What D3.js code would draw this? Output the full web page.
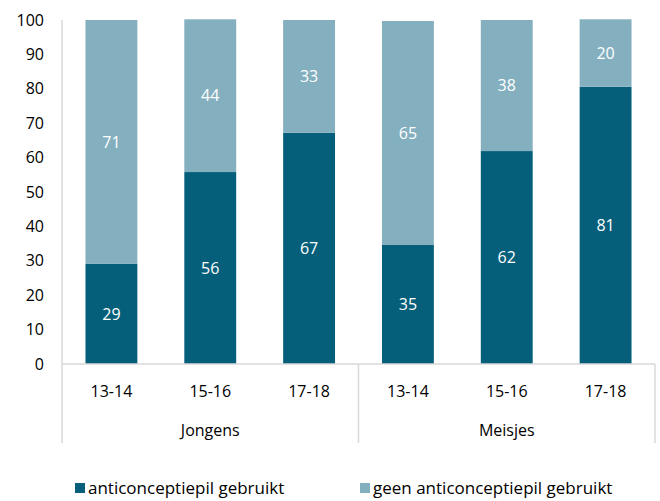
<!DOCTYPE html>
<html>
<head>
<meta charset="utf-8">
<script src="https://cdn.jsdelivr.net/npm/d3@7"></script>
<style>
  body { margin: 0; background: #fff; }
  svg text { font-family: "Open Sans", "Noto Sans", sans-serif; }
</style>
</head>
<body>
<div id="chart"></div>
<script>
// data
var groups = ["Jongens", "Meisjes"];
var ages = ["13-14", "15-16", "17-18"];
var gebruikt = [29.1, 55.8, 67.2, 34.6, 61.9, 80.6];
var geenGebruikt = [70.9, 44.4, 32.8, 65.1, 38.1, 19.6];
var seriesNames = ["anticonceptiepil gebruikt", "geen anticonceptiepil gebruikt"];
var yTicks = [0, 10, 20, 30, 40, 50, 60, 70, 80, 90, 100];

var w = 660, h = 501;
var plotLeft = 62, plotRight = 655, plotTop = 20, plotBottom = 364;
var colors = ["#065f7a", "#83afbf"];
var gridGrey = "#d9d9d9";
var fontSize = "16px";

var svg = d3.select("#chart").append("svg")
  .attr("width", w).attr("height", h);

// one row per bar
var rows = [];
groups.forEach(function(g, gi) {
  ages.forEach(function(a, ai) {
    var i = gi * ages.length + ai;
    rows.push({ key: g + "|" + a, group: g, age: a, gebruikt: gebruikt[i], geen: geenGebruikt[i] });
  });
});

var x = d3.scaleBand()
  .domain(rows.map(function(d) { return d.key; }))
  .range([plotLeft, plotRight])
  .paddingInner(0.475)
  .paddingOuter(0.2375);

var y = d3.scaleLinear().domain([0, 100]).range([plotBottom, plotTop]);

var layers = d3.stack().keys(["gebruikt", "geen"])(rows);

// y axis labels
svg.append("g").selectAll("text")
  .data(yTicks).enter().append("text")
  .attr("x", 44)
  .attr("y", function(d) { return y(d); })
  .attr("dy", "0.35em")
  .attr("text-anchor", "end")
  .attr("font-size", fontSize)
  .attr("fill", "#000")
  .text(function(d) { return d; });

// y axis line
svg.append("line")
  .attr("x1", plotLeft).attr("x2", plotLeft)
  .attr("y1", plotTop).attr("y2", plotBottom)
  .attr("stroke", gridGrey).attr("stroke-width", 1.5);

// bars + value labels
layers.forEach(function(layer, li) {
  svg.append("g").selectAll("rect")
    .data(layer).enter().append("rect")
    .attr("x", function(d) { return x(d.data.key); })
    .attr("y", function(d) { return y(d[1]); })
    .attr("width", x.bandwidth())
    .attr("height", function(d) { return y(d[0]) - y(d[1]); })
    .attr("fill", colors[li]);

  svg.append("g").selectAll("text")
    .data(layer).enter().append("text")
    .attr("x", function(d) { return x(d.data.key) + x.bandwidth() / 2; })
    .attr("y", function(d) { return (y(d[0]) + y(d[1])) / 2; })
    .attr("dy", "0.35em")
    .attr("text-anchor", "middle")
    .attr("font-size", fontSize)
    .attr("fill", "#fff")
    .text(function(d) { return Math.round(d[1] - d[0]); });
});

// category axis
svg.append("line")
  .attr("x1", plotLeft).attr("x2", plotRight)
  .attr("y1", plotBottom).attr("y2", plotBottom)
  .attr("stroke", gridGrey).attr("stroke-width", 1.5);

var groupEdges = [plotLeft, plotLeft + (plotRight - plotLeft) / 2, plotRight];
svg.append("g").selectAll("line")
  .data(groupEdges).enter().append("line")
  .attr("x1", function(d) { return d; }).attr("x2", function(d) { return d; })
  .attr("y1", plotBottom).attr("y2", 443)
  .attr("stroke", gridGrey).attr("stroke-width", 1.5);

svg.append("g").selectAll("text")
  .data(rows).enter().append("text")
  .attr("x", function(d) { return x(d.key) + x.bandwidth() / 2; })
  .attr("y", 391)
  .attr("dy", "0.35em")
  .attr("text-anchor", "middle")
  .attr("font-size", fontSize)
  .attr("fill", "#000")
  .text(function(d) { return d.age; });

svg.append("g").selectAll("text")
  .data(groups).enter().append("text")
  .attr("x", function(d, i) { return (groupEdges[i] + groupEdges[i + 1]) / 2; })
  .attr("y", 430)
  .attr("dy", "0.35em")
  .attr("text-anchor", "middle")
  .attr("font-size", fontSize)
  .attr("fill", "#000")
  .text(function(d) { return d; });

// legend
var legendX = [75, 360];
var legend = svg.append("g").selectAll("g")
  .data(seriesNames).enter().append("g")
  .attr("transform", function(d, i) { return "translate(" + legendX[i] + ",483)"; });
legend.append("rect")
  .attr("width", 10).attr("height", 10)
  .attr("fill", function(d, i) { return colors[i]; });
legend.append("text")
  .attr("x", 13).attr("y", 5)
  .attr("dy", "0.35em")
  .attr("font-size", "17px")
  .attr("fill", "#000")
  .text(function(d) { return d; });
</script>
</body>
</html>
